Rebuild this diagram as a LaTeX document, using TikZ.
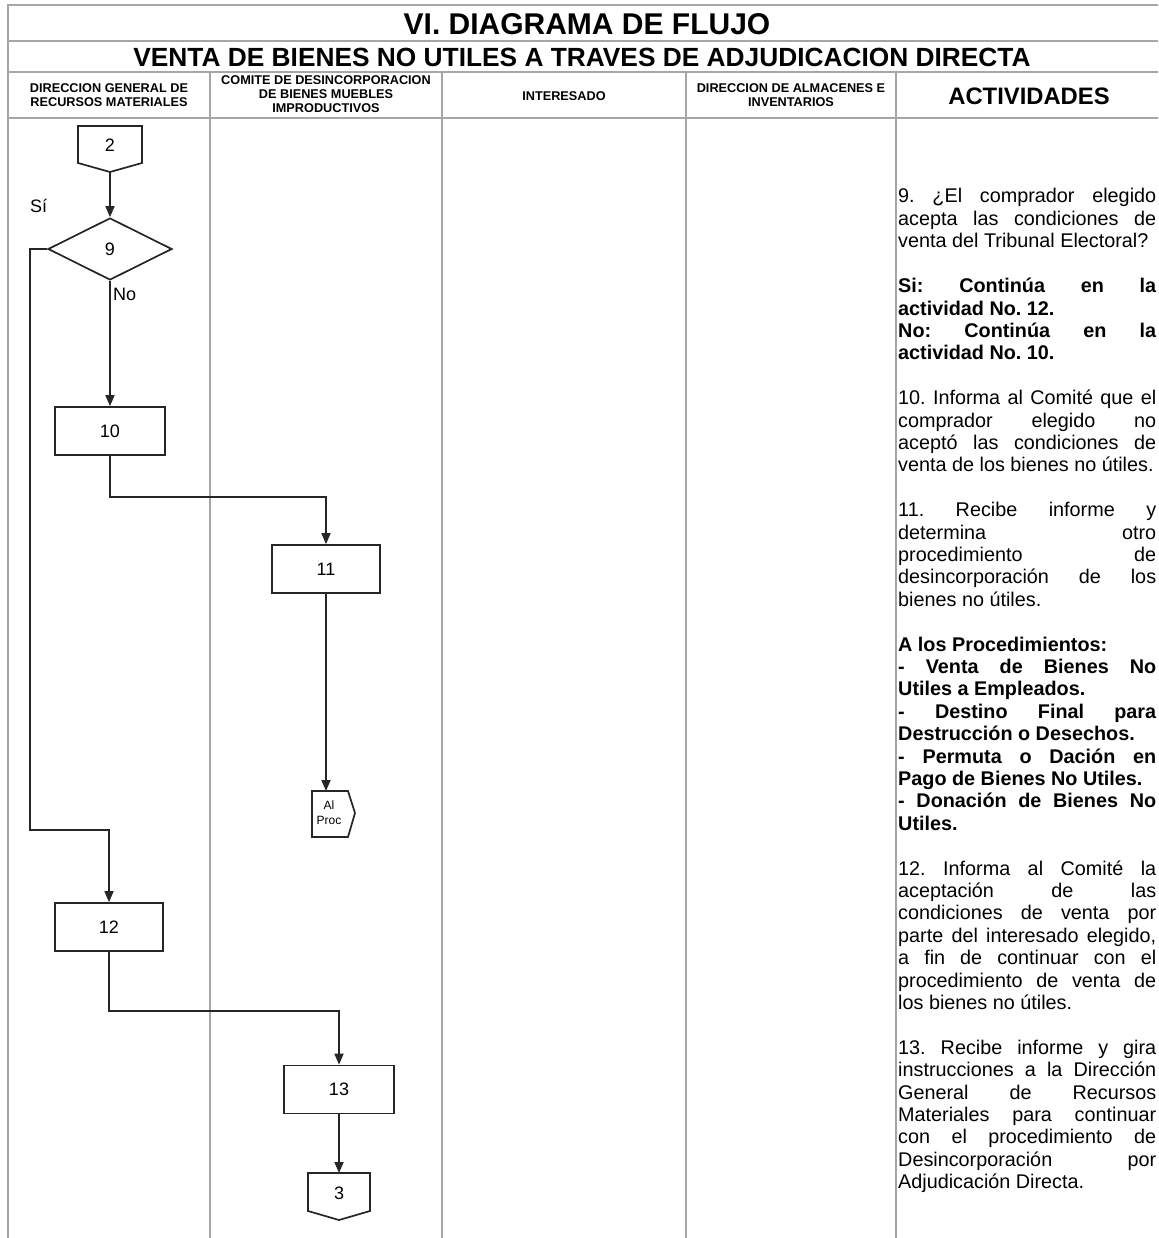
\documentclass[tikz,border=0pt]{standalone}
\usepackage{fontspec}
\setmainfont{Liberation Sans}
\usetikzlibrary{arrows.meta,shapes.geometric,calc}
\newcommand{\jl}[1]{\hbox to 258pt{#1}}
\newcommand{\lastl}[1]{\hbox{#1}}
\frenchspacing
\begin{document}
\begin{tikzpicture}[x=1pt,y=-1pt,
  grid/.style={draw=gray!70, line width=1.8pt},
  flow/.style={draw=black!85, line width=1.7pt},
  arr/.style={flow, -{Triangle[length=11pt,width=9pt]}},
  box/.style={flow, rectangle, minimum width=110pt, minimum height=48pt, inner sep=0pt, font=\fontsize{18}{20}\selectfont},
  lbl/.style={inner sep=0pt, font=\fontsize{18}{20}\selectfont},
  txt/.style={anchor=base west, inner sep=0pt, font=\fontsize{19.8}{22.4}\selectfont},
  hd/.style={inner sep=0pt, align=center, font=\fontsize{12.7}{14}\selectfont\bfseries}]
\useasboundingbox (0,0) rectangle (1158,1238);
\fill[white] (0,0) rectangle (1158,1238);
% frame
\draw[grid] (8,1238) -- (8,5) -- (1158,5);
\draw[grid] (8,41) -- (1158,41);
\draw[grid] (8,72) -- (1158,72);
\draw[grid] (8,118) -- (1158,118);
\foreach \x in {210,442,686,896} \draw[grid] (\x,72) -- (\x,1238);
% headers
\node[inner sep=0pt, font=\fontsize{30}{34}\selectfont\bfseries] (title) at (587,24) {VI. DIAGRAMA DE FLUJO};
\node[inner sep=0pt, font=\fontsize{26.3}{30}\selectfont\bfseries] (subtitle) at (582,57) {VENTA DE BIENES NO UTILES A TRAVES DE ADJUDICACION DIRECTA};
\node[hd] (h1) at (109,95) {DIRECCION GENERAL DE\\RECURSOS MATERIALES};
\node[hd] (h2) at (326,94) {COMITE DE DESINCORPORACION\\DE BIENES MUEBLES\\IMPRODUCTIVOS};
\node[hd] (h3) at (564,96) {INTERESADO};
\node[hd] (h4) at (791,95) {DIRECCION DE ALMACENES E\\INVENTARIOS};
\node[inner sep=0pt, font=\fontsize{23.8}{26}\selectfont\bfseries] (h5) at (1029,96) {ACTIVIDADES};
% flowchart
\draw[flow] (78,126) -- (142,126) -- (142,163) -- (110,172) -- (78,163) -- cycle;
\node[lbl] (c2) at (110,145) {2};
\coordinate (c2s) at (110,172);
\node[flow, diamond, minimum width=124pt, minimum height=62pt, inner sep=0pt, font=\fontsize{18}{20}\selectfont] (d9) at (110,249) {9};
\node[lbl, anchor=west] (si) at (30,206) {Sí};
\node[lbl, anchor=west] (no) at (113,294) {No};
\node[box] (b10) at (110,431) {10};
\node[box, minimum width=108pt] (b11) at (326,569) {11};
\node[box, minimum width=108pt] (b12) at (109,927) {12};
\node[box] (b13) at (339,1089.5) {13};
% Al Proc
\draw[flow] (312,791) -- (348,791) -- (355,813) -- (348,837) -- (312,837) -- cycle;
\node[inner sep=0pt, align=center, font=\fontsize{12}{15}\selectfont] (ap) at (329,813) {Al\\Proc};
\coordinate (apn) at (326,791);
% off-page 3
\draw[flow] (308,1173) -- (370,1173) -- (370,1211) -- (339,1220) -- (308,1211) -- cycle;
\node[lbl] (c3) at (339,1193) {3};
\coordinate (c3n) at (339,1173);
\coordinate (k1) at (30,830);
% connectors
\draw[arr] (c2s) -- (d9.north);
\draw[arr] (d9.south) -- (b10.north);
\draw[arr] (b10.south) -- ++(0,41) -| (b11.north);
\draw[arr] (b11.south) -- (b11.south |- apn);
\draw[arr] (d9.west) -| (k1) -| (b12.north);
\draw[arr] (b12.south) -- ++(0,59) -| (b13.north);
\draw[arr] (b13.south) -- (b13.south |- c3n);
% activities text
\node[txt] (t0) at (898,203+22.4*0) {\jl{9. ¿El comprador elegido}};
\node[txt] (t1) at (898,203+22.4*1) {\jl{acepta las condiciones de}};
\node[txt] (t2) at (898,203+22.4*2) {\lastl{venta del Tribunal Electoral?}};
\node[txt] (t4) at (898,203+22.4*4) {\jl{\bfseries Si: Continúa en la}};
\node[txt] (t5) at (898,203+22.4*5) {\lastl{\bfseries actividad No. 12.}};
\node[txt] (t6) at (898,203+22.4*6) {\jl{\bfseries No: Continúa en la}};
\node[txt] (t7) at (898,203+22.4*7) {\lastl{\bfseries actividad No. 10.}};
\node[txt] (t9) at (898,203+22.4*9) {\jl{10. Informa al Comité que el}};
\node[txt] (t10) at (898,203+22.4*10) {\jl{comprador elegido no}};
\node[txt] (t11) at (898,203+22.4*11) {\jl{aceptó las condiciones de}};
\node[txt] (t12) at (898,203+22.4*12) {\lastl{venta de los bienes no útiles.}};
\node[txt] (t14) at (898,203+22.4*14) {\jl{11. Recibe informe y}};
\node[txt] (t15) at (898,203+22.4*15) {\jl{determina otro}};
\node[txt] (t16) at (898,203+22.4*16) {\jl{procedimiento de}};
\node[txt] (t17) at (898,203+22.4*17) {\jl{desincorporación de los}};
\node[txt] (t18) at (898,203+22.4*18) {\lastl{bienes no útiles.}};
\node[txt] (t20) at (898,203+22.4*20) {\lastl{\bfseries A los Procedimientos:}};
\node[txt] (t21) at (898,203+22.4*21) {\jl{\bfseries - Venta de Bienes No}};
\node[txt] (t22) at (898,203+22.4*22) {\lastl{\bfseries Utiles a Empleados.}};
\node[txt] (t23) at (898,203+22.4*23) {\jl{\bfseries - Destino Final para}};
\node[txt] (t24) at (898,203+22.4*24) {\lastl{\bfseries Destrucción o Desechos.}};
\node[txt] (t25) at (898,203+22.4*25) {\jl{\bfseries - Permuta o Dación en}};
\node[txt] (t26) at (898,203+22.4*26) {\lastl{\bfseries Pago de Bienes No Utiles.}};
\node[txt] (t27) at (898,203+22.4*27) {\jl{\bfseries - Donación de Bienes No}};
\node[txt] (t28) at (898,203+22.4*28) {\lastl{\bfseries Utiles.}};
\node[txt] (t30) at (898,203+22.4*30) {\jl{12. Informa al Comité la}};
\node[txt] (t31) at (898,203+22.4*31) {\jl{aceptación de las}};
\node[txt] (t32) at (898,203+22.4*32) {\jl{condiciones de venta por}};
\node[txt] (t33) at (898,203+22.4*33) {\jl{parte del interesado elegido,}};
\node[txt] (t34) at (898,203+22.4*34) {\jl{a fin de continuar con el}};
\node[txt] (t35) at (898,203+22.4*35) {\jl{procedimiento de venta de}};
\node[txt] (t36) at (898,203+22.4*36) {\lastl{los bienes no útiles.}};
\node[txt] (t38) at (898,203+22.4*38) {\jl{13. Recibe informe y gira}};
\node[txt] (t39) at (898,203+22.4*39) {\jl{instrucciones a la Dirección}};
\node[txt] (t40) at (898,203+22.4*40) {\jl{General de Recursos}};
\node[txt] (t41) at (898,203+22.4*41) {\jl{Materiales para continuar}};
\node[txt] (t42) at (898,203+22.4*42) {\jl{con el procedimiento de}};
\node[txt] (t43) at (898,203+22.4*43) {\jl{Desincorporación por}};
\node[txt] (t44) at (898,203+22.4*44) {\lastl{Adjudicación Directa.}};
\end{tikzpicture}
\end{document}
